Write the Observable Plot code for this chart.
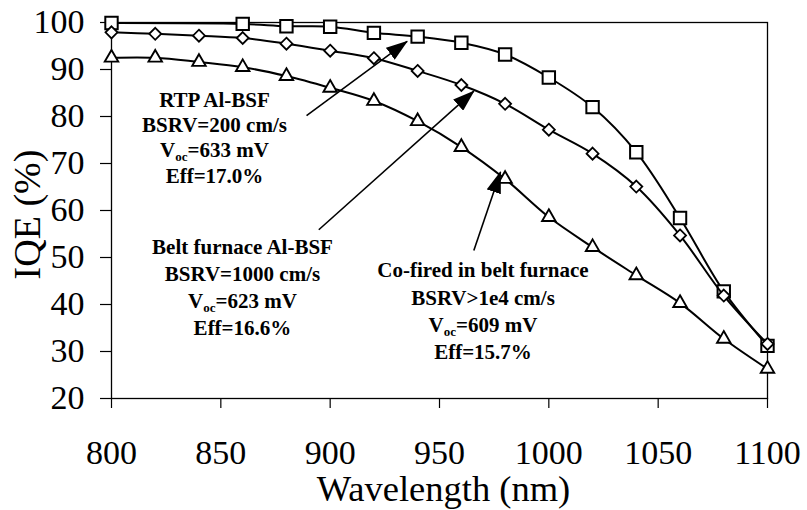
<!DOCTYPE html>
<html>
<head>
<meta charset="utf-8">
<script src="https://cdn.jsdelivr.net/npm/d3@7"></script>
<script src="https://cdn.jsdelivr.net/npm/@observablehq/plot@0.6"></script>
<style>
  html, body { margin: 0; padding: 0; background: #fff; }
</style>
</head>
<body>
<div id="chart"></div>
<script>
// ---- Data ----
const wavelengthRTP = [800, 860, 880, 900, 920, 940, 960, 980, 1000, 1020, 1040, 1060, 1080, 1100];
const iqeRTP        = [99.9, 99.7, 99.2, 99.1, 97.8, 97.0, 95.7, 93.2, 88.3, 82.0, 72.4, 58.4, 42.8, 31.2];

const wavelength    = [800, 820, 840, 860, 880, 900, 920, 940, 960, 980, 1000, 1020, 1040, 1060, 1080, 1100];
const iqeBelt       = [97.9, 97.6, 97.2, 96.7, 95.5, 94.0, 92.4, 89.7, 86.7, 82.7, 77.2, 72.1, 65.1, 54.7, 41.9, 31.6];
const iqeCofired    = [92.5, 92.5, 91.6, 90.5, 88.6, 86.1, 83.3, 79.0, 73.5, 66.7, 58.6, 52.2, 46.2, 40.3, 32.7, 26.3];

const xTicks = [800, 850, 900, 950, 1000, 1050, 1100];
const yTicks = [20, 30, 40, 50, 60, 70, 80, 90, 100];

const xLabel = "Wavelength (nm)";
const yLabel = "IQE (%)";

const noteRTP     = ["RTP Al-BSF", "BSRV=200 cm/s", "Voc=633 mV", "Eff=17.0%"];
const noteBelt    = ["Belt furnace Al-BSF", "BSRV=1000 cm/s", "Voc=623 mV", "Eff=16.6%"];
const noteCofired = ["Co-fired in belt furnace", "BSRV>1e4 cm/s", "Voc=609 mV", "Eff=15.7%"];

// ---- Build tables ----
const rtp = wavelengthRTP.map((w, i) => ({w, v: iqeRTP[i]}));
const belt = wavelength.map((w, i) => ({w, v: iqeBelt[i]}));
const cofired = wavelength.map((w, i) => ({w, v: iqeCofired[i]}));

// ---- Annotation layout (data units) ----
const noteLayout = [
  {lines: noteRTP, x: 847.1, y: 75.7, lh: 1.2},
  {lines: noteBelt, x: 859.9, y: 43.9, lh: 1.29},
  {lines: noteCofired, x: 969.9, y: 38.9, lh: 1.3}
];
const arrowLayout = [
  {x1: 889.2, y1: 80.2, x2: 935.2, y2: 96.0},
  {x1: 894.8, y1: 55.9, x2: 965.7, y2: 85.4},
  {x1: 965.7, y1: 51.5, x2: 977.9, y2: 68.2}
];

const serif = "Liberation Serif, Times New Roman, Times, serif";
const black = "#000";
const fmt = d => String(d);

function seriesMarks(data, symbol, r, sw) {
  return [
    Plot.line(data, {x: "w", y: "v", curve: "catmull-rom", stroke: black, strokeWidth: 2}),
    Plot.dot(data, {x: "w", y: "v", symbol, r, fill: "#fff", stroke: black, strokeWidth: sw})
  ];
}

const chart = Plot.plot({
  width: 807,
  height: 510,
  marginLeft: 111,
  marginRight: 40,
  marginTop: 22,
  marginBottom: 112,
  style: {fontFamily: serif, fontSize: "34px", color: black, background: "#fff"},
  x: {domain: [800, 1100], ticks: xTicks, tickFormat: fmt, label: null},
  y: {domain: [20, 100], ticks: yTicks, tickFormat: fmt, label: null},
  marks: [
    Plot.axisX({ticks: xTicks, tickFormat: fmt, tickSize: 10, tickPadding: 31, fontSize: 34, fontFamily: serif, stroke: black, strokeWidth: 1.2, label: null}),
    Plot.axisY({ticks: yTicks, tickFormat: fmt, tickSize: 11, tickPadding: 16, fontSize: 34, fontFamily: serif, stroke: black, strokeWidth: 1.2, label: null}),
    Plot.frame({stroke: black, strokeWidth: 1.3}),
    ...seriesMarks(rtp, "square", 7, 2),
    ...seriesMarks(belt, "diamond2", 5.4, 1.8),
    ...seriesMarks(cofired, "triangle", 5, 1.9),
    Plot.link(arrowLayout, {x1: "x1", y1: "y1", x2: "x2", y2: "y2", stroke: black, strokeWidth: 1.6}),
    ...noteLayout.map(n => Plot.text([n.lines.join("\n")], {
      x: n.x, y: n.y, text: d => d, textAnchor: "middle", lineAnchor: "middle",
      lineHeight: n.lh, fontSize: 21, fontWeight: "bold", fontFamily: serif, fill: black
    })),
    Plot.text([xLabel], {frameAnchor: "bottom", text: d => d, dx: 4, dy: 102, lineAnchor: "bottom",
      textAnchor: "middle", fontSize: 36.5, fontFamily: serif, fill: black}),
    Plot.text([yLabel], {frameAnchor: "left", text: d => d, rotate: -90, dx: -72, dy: 4, lineAnchor: "bottom",
      textAnchor: "middle", fontSize: 38, fontFamily: serif, fill: black})
  ]
});

document.getElementById("chart").appendChild(chart);

// Filled arrow heads on the annotation links
const svg = d3.select(chart.tagName.toLowerCase() === "svg" ? chart : chart.querySelector("svg"));
const defs = svg.insert("defs", ":first-child");
defs.append("marker")
  .attr("id", "filled-arrow")
  .attr("viewBox", "0 0 22 15")
  .attr("refX", 21)
  .attr("refY", 7.5)
  .attr("markerWidth", 22)
  .attr("markerHeight", 15)
  .attr("markerUnits", "userSpaceOnUse")
  .attr("orient", "auto")
  .append("path")
  .attr("d", "M0,0L22,7.5L0,15Z")
  .attr("fill", black);
svg.selectAll('g[aria-label="link"] path').attr("marker-end", "url(#filled-arrow)");

// Subscript "oc" in V_oc lines
svg.selectAll("text, tspan").each(function() {
  if (this.childElementCount > 0) return;
  const s = this.textContent;
  if (!s.startsWith("Voc")) return;
  const el = d3.select(this);
  el.text("");
  el.append("tspan").text("V");
  el.append("tspan").attr("font-size", 13).attr("dy", 4).text("oc");
  el.append("tspan").attr("dy", -4).text(s.slice(3));
});
</script>
</body>
</html>
